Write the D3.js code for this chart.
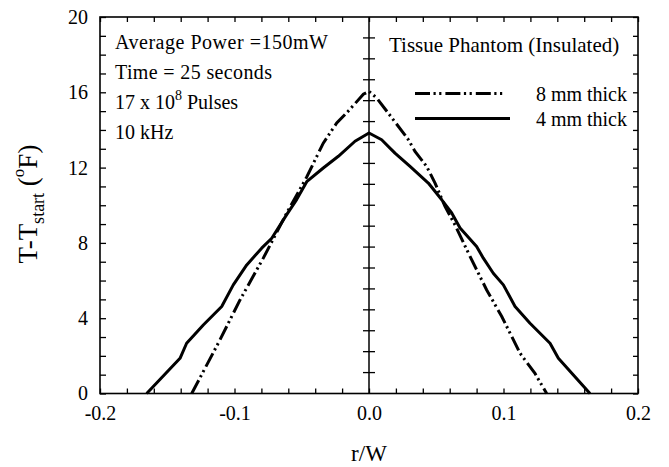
<!DOCTYPE html>
<html><head><meta charset="utf-8">
<script src="https://cdn.jsdelivr.net/npm/d3@7"></script>
<style>body{margin:0;background:#fff;} svg{display:block;} text{font-family:"Liberation Serif","Times New Roman",serif;fill:#000;}</style>
</head><body>
<svg id="c" width="669" height="467"></svg>
<script>
// ---- data ----
const r4mm = [-0.1653,-0.1405,-0.1356,-0.1232,-0.1095,-0.1009,-0.0909,-0.0798,-0.0723,-0.0612,-0.0538,-0.0463,-0.034,-0.0228,-0.0104,0,0.0094,0.0193,0.0305,0.0441,0.0541,0.0615,0.0677,0.08,0.085,0.0924,0.0999,0.1086,0.1197,0.1346,0.1408,0.1643];
const t4mm = [0,1.87,2.67,3.64,4.62,5.77,6.83,7.72,8.25,9.5,10.3,11.25,11.98,12.6,13.4,13.84,13.48,12.77,12.06,11.18,10.29,9.59,8.79,7.81,7.19,6.39,5.77,4.62,3.73,2.67,1.87,0];
const r8mm = [-0.1318,-0.1108,-0.0959,-0.0786,-0.0612,-0.0463,-0.034,-0.024,-0.0141,-0.0042,0,0.0057,0.018,0.0293,0.0342,0.0429,0.0491,0.0565,0.0639,0.0751,0.0875,0.0987,0.1123,0.1234,0.1321];
const t8mm = [0,2.85,4.97,7.19,9.58,11.5,13.3,14.37,15.1,15.9,16.05,15.7,14.55,13.48,12.86,12.06,11.18,9.94,8.96,7.28,5.5,4.09,2.14,1.07,0];
const xTickLabels = [-0.2,-0.1,0.0,0.1,0.2];
const yTickLabels = [0,4,8,12,16,20];
const seriesNames = ["8 mm thick","4 mm thick"];
const annotations = ["Average Power =150mW","Time = 25 seconds","17 x 10|8| Pulses","10 kHz"];
const title = "Tissue Phantom (Insulated)";

// ---- layout ----
const L=100, R=638, T=17, B=393.5;
const svg=d3.select("#c");
const x=d3.scaleLinear().domain([-0.2,0.2]).range([L,R]);
const y=d3.scaleLinear().domain([0,20]).range([B,T]);
const fs=20;

const xMinor=d3.range(-10,11).map(i=>i*0.02);
const yMinor=d3.range(0,21);
const isLab=(v,arr)=>arr.some(a=>Math.abs(a-v)<1e-9);
const fmtX=v=>{const s=Math.abs(v).toFixed(1);return (v< -1e-9?"-":"")+s;};

const gB=svg.append("g").attr("transform",`translate(0,${B})`)
  .call(d3.axisBottom(x).tickValues(xMinor).tickSizeInner(-5).tickSizeOuter(0).tickPadding(12)
    .tickFormat(v=>isLab(v,xTickLabels)?fmtX(v):""));
const gT=svg.append("g").attr("transform",`translate(0,${T})`)
  .call(d3.axisTop(x).tickValues(xMinor).tickSizeInner(-5).tickSizeOuter(0).tickFormat(""));
const gL=svg.append("g").attr("transform",`translate(${L},0)`)
  .call(d3.axisLeft(y).tickValues(yMinor).tickSizeInner(-6).tickSizeOuter(0).tickPadding(12)
    .tickFormat(v=>isLab(v,yTickLabels)?String(v):""));
const gR=svg.append("g").attr("transform",`translate(${R},0)`)
  .call(d3.axisRight(y).tickValues(yMinor).tickSizeInner(-5).tickSizeOuter(0).tickFormat(""));
[gB,gT,gL,gR].forEach(g=>{
  g.select(".domain").remove();
  g.selectAll("line").attr("stroke","#000").attr("stroke-width",1.3);
  g.selectAll("text").style("font-family","Liberation Serif").style("font-size",fs+"px").attr("fill","#000");
});
// frame
svg.append("rect").attr("x",L).attr("y",T).attr("width",R-L).attr("height",B-T)
  .attr("fill","none").attr("stroke","#000").attr("stroke-width",1.6);

// center axis
svg.append("line").attr("x1",x(0)).attr("x2",x(0)).attr("y1",T).attr("y2",B).attr("stroke","#000").attr("stroke-width",1.5);
const cTicks=d3.range(1,18).map(k=>k*20/18);
svg.append("g").selectAll("line").data(cTicks).join("line")
  .attr("x1",x(0)-6).attr("x2",x(0)+6).attr("y1",d=>y(d)).attr("y2",d=>y(d))
  .attr("stroke","#000").attr("stroke-width",1.3);

// curves
const line=d3.line().x(d=>x(d[0])).y(d=>y(d[1]));
const dashPat="15,3.5,2.2,3.5,2.2,4";
svg.append("path").datum(d3.zip(r8mm,t8mm)).attr("d",line)
  .attr("fill","none").attr("stroke","#000").attr("stroke-width",3).attr("stroke-dasharray",dashPat);
svg.append("path").datum(d3.zip(r4mm,t4mm)).attr("d",line)
  .attr("fill","none").attr("stroke","#000").attr("stroke-width",3).attr("stroke-linejoin","round");

// legend
const leg=[{name:seriesNames[0],y:93.5,dash:dashPat,x2:504},{name:seriesNames[1],y:118.5,dash:null,x2:510}];
leg.forEach(l=>{
  svg.append("line").attr("x1",415).attr("x2",l.x2).attr("y1",l.y).attr("y2",l.y)
    .attr("stroke","#000").attr("stroke-width",3).attr("stroke-dasharray",l.dash);
  svg.append("text").attr("x",627).attr("y",l.y).attr("dy","0.35em").attr("text-anchor","end")
    .style("font-size",fs+"px").text(l.name);
});
svg.append("text").attr("x",389).attr("y",45).attr("dy","0.35em").style("font-size","21px").text(title);

// annotations
annotations.forEach((a,i)=>{
  const t=svg.append("text").attr("x",115).attr("y",42+i*30).attr("dy","0.35em").style("font-size",fs+"px");
  const parts=a.split("|");
  if(parts.length===1){t.text(a);}
  else{
    t.append("tspan").text(parts[0]);
    t.append("tspan").attr("dy",-9).style("font-size","14px").text(parts[1]);
    t.append("tspan").attr("dy",9).text(parts[2]);
  }
  if(i===0){t.attr("textLength",213).attr("lengthAdjust","spacing");}
  if(i===1){t.attr("textLength",157).attr("lengthAdjust","spacing");}
});

// axis titles
svg.append("text").attr("x",x(0)).attr("y",461).attr("text-anchor","middle")
  .style("font-size","23px").text("r/W");
const yl=svg.append("text").attr("transform","translate(37,204) rotate(-90)").attr("text-anchor","middle")
  .style("font-size","27px");
yl.append("tspan").text("T-T");
yl.append("tspan").attr("dy",7).style("font-size","18px").text("start");
yl.append("tspan").attr("dy",-7).text(" (");
yl.append("tspan").attr("dy",-13).style("font-size","17px").text("o");
yl.append("tspan").attr("dy",13).text("F)");
</script>
</body></html>
